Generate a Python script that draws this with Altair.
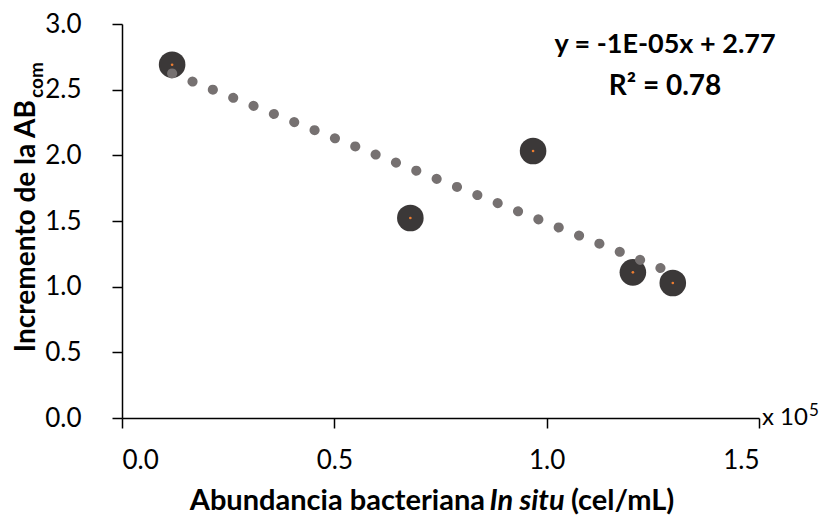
import altair as alt
import pandas as pd

# ---- data ----
abundancia = [0.118, 0.679, 0.968, 1.203, 1.297]   # x 10^5 cel/mL
incremento = [2.69, 1.523, 2.033, 1.109, 1.028]
x_ticks = [0.0, 0.5, 1.0, 1.5]
y_ticks = [0.0, 0.5, 1.0, 1.5, 2.0, 2.5, 3.0]
equation_text = ["y = -1E-05x + 2.77"]
r2_text = ["R² = 0.78"]
x_title_parts = ["Abundancia bacteriana", "In situ", "(cel/mL)"]
y_title_parts = ["Incremento de la AB", "com"]
multiplier_parts = ["x 10", "5"]

df = pd.DataFrame({"x": abundancia, "y": incremento})

FONT = "Lato"
W, H = 637, 394

xs = alt.Scale(domain=[0, 1.5], nice=False, zero=False)
ys = alt.Scale(domain=[0, 3], nice=False)

x_enc = alt.X(
    "x:Q", scale=xs,
    axis=alt.Axis(values=x_ticks, format=".1f", title=None, labelFontSize=26,
                  labelFont=FONT, labelColor="black", tickSize=10, tickColor="black",
                  domainColor="black", tickWidth=1.5, domainWidth=1.5,
                  labelPadding=19, grid=False),
)
y_enc = alt.Y(
    "y:Q", scale=ys,
    axis=alt.Axis(values=y_ticks, format=".1f", title=None, labelFontSize=26,
                  labelFont=FONT, labelColor="black", tickSize=10, tickColor="black",
                  domainColor="black", tickWidth=1.5, domainWidth=1.5,
                  labelPadding=31, grid=False),
)

base = alt.Chart(df)

points = base.mark_circle(size=707, color="#3b3838", opacity=1).encode(x=x_enc, y=y_enc)

trend = base.transform_regression("x", "y").mark_line(
    color="#767171", strokeWidth=10, strokeCap="round", strokeDash=[0.1, 21.8]
).encode(x=alt.X("x:Q", scale=xs), y=alt.Y("y:Q", scale=ys))

centers = base.mark_circle(size=7, color="#ED7D31", opacity=1).encode(
    x=alt.X("x:Q", scale=xs), y=alt.Y("y:Q", scale=ys)
)


def label(texts, x, y, size=24, bold=True, italic=False, align="center",
          baseline="alphabetic", angle=0):
    kw = dict(font=FONT, fontSize=size, color="black", align=align,
              baseline=baseline, fontWeight="bold" if bold else "normal")
    if italic:
        kw["fontStyle"] = "italic"
    if angle:
        kw["angle"] = angle
    return alt.Chart(pd.DataFrame({"t": texts})).mark_text(**kw).encode(
        x=alt.value(x), y=alt.value(y), text="t:N"
    )


eq = label(equation_text, 543, 29, size=27)
r2 = label(r2_text, 543, 71, size=28)

xt1 = label([x_title_parts[0]], 363, 486, size=29, align="right")
xt2 = label([x_title_parts[1]], 405, 486, size=29, italic=True)
xt3 = label([x_title_parts[2]], 449, 486, size=29, align="left")

yt1 = label([y_title_parts[0]], -87, 76, size=28, align="right", angle=270)
yt2 = label([y_title_parts[1]], -79, 74, size=19, align="left", angle=270)

m1 = label([multiplier_parts[0]], 640, 401, size=24, bold=False, align="left")
m2 = label([multiplier_parts[1]], 687, 392, size=17, bold=False, align="left")

chart = alt.layer(
    points, trend, centers, eq, r2, xt1, xt2, xt3, yt1, yt2, m1, m2
).properties(
    width=W, height=H,
    padding={"left": 122, "top": 24, "right": 67, "bottom": 100},
    autosize="none",
).configure_view(stroke=None)

chart.save("out.html", embed_options={"renderer": "svg", "actions": False})
